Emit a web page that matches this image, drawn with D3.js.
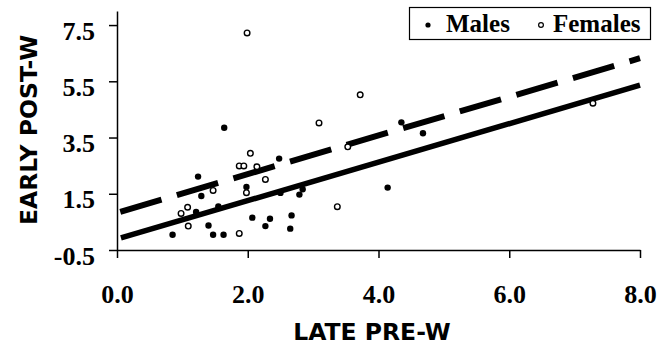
<!DOCTYPE html>
<html>
<head>
<meta charset="utf-8">
<script src="https://cdn.jsdelivr.net/npm/d3@7"></script>
<style>
  html, body { margin: 0; padding: 0; background: #fff; }
  svg { display: block; }
  .tick text { font-family: "Liberation Serif", "Times New Roman", serif; font-weight: bold; font-size: 26px; fill: #000; }
  .axis-title { font-family: "DejaVu Sans", Verdana, sans-serif; font-weight: bold; font-size: 23.5px; fill: #000; }
  .legend text { font-family: "Liberation Serif", "Times New Roman", serif; font-weight: bold; font-size: 25px; fill: #000; }
</style>
</head>
<body>
<div id="chart"></div>
<script>
// late pre-W (x) vs early post-W (y)
const malesX = [1.64, 1.24, 1.29, 1.21, 0.85, 1.40, 1.47, 1.63, 1.98, 2.07, 2.27, 2.34, 2.48, 2.67, 2.65, 2.79, 2.84, 4.14, 4.35, 4.68, 1.55, 2.50];
const malesY = [3.85, 2.11, 1.42, 0.85, 0.04, 0.37, 0.04, 0.04, 1.74, 0.65, 0.35, 0.61, 2.75, 0.73, 0.26, 1.47, 1.66, 1.72, 4.04, 3.65, 1.05, 1.53];

const femalesX = [1.99, 2.04, 1.87, 1.94, 2.14, 2.27, 1.98, 1.47, 1.08, 0.98, 1.09, 1.87, 3.09, 3.72, 3.53, 3.37, 7.28];
const femalesY = [7.22, 2.94, 2.49, 2.49, 2.46, 2.01, 1.54, 1.62, 1.02, 0.80, 0.35, 0.09, 4.02, 5.02, 3.17, 1.04, 4.72];

// regression lines, end points
const maleFitX = [0.06, 8.0];
const maleFitY = [-0.07, 5.36];
const femaleFitX = [0.05, 8.0];
const femaleFitY = [0.86, 6.32];

const xTicks = [0, 2, 4, 6, 8];
const xTickLabels = ['0.0', '2.0', '4.0', '6.0', '8.0'];
const yTicks = [-0.5, 1.5, 3.5, 5.5, 7.5];
const yTickLabels = ['-0.5', '1.5', '3.5', '5.5', '7.5'];

const width = 667, height = 349;

const svg = d3.select('#chart').append('svg')
  .attr('width', width)
  .attr('height', height);

const x = d3.scaleLinear().domain([0, 8]).range([117, 640]);
const y = d3.scaleLinear().domain([-0.5, 8]).range([250, 11]);

// axes
const xAxis = svg.append('g')
  .attr('transform', `translate(0,${y(-0.5)})`)
  .call(d3.axisBottom(x).tickValues(xTicks).tickSize(8).tickSizeOuter(0)
    .tickFormat((d, i) => xTickLabels[i]));
xAxis.selectAll('text').attr('y', 53).attr('dy', 0);

const yAxis = svg.append('g')
  .attr('transform', `translate(${x(0)},0)`)
  .call(d3.axisLeft(y).tickValues(yTicks).tickSize(8).tickSizeOuter(0)
    .tickFormat((d, i) => yTickLabels[i]));
yAxis.selectAll('text').attr('x', -22).attr('dy', 14);

svg.selectAll('.domain, .tick line').attr('stroke', '#000').attr('stroke-width', 1.5);

// fit lines
const line = d3.line().x(d => x(d[0])).y(d => y(d[1]));

svg.append('path')
  .datum(d3.zip(maleFitX, maleFitY))
  .attr('d', line)
  .attr('fill', 'none')
  .attr('stroke', '#000')
  .attr('stroke-width', 5.5);

svg.append('path')
  .datum(d3.zip(femaleFitX, femaleFitY))
  .attr('d', line)
  .attr('fill', 'none')
  .attr('stroke', '#000')
  .attr('stroke-width', 6)
  .attr('stroke-dasharray', '43,16');

// points
svg.append('g').selectAll('circle')
  .data(d3.zip(malesX, malesY))
  .join('circle')
  .attr('cx', d => x(d[0]))
  .attr('cy', d => y(d[1]))
  .attr('r', 3.2)
  .attr('fill', '#000');

svg.append('g').selectAll('circle')
  .data(d3.zip(femalesX, femalesY))
  .join('circle')
  .attr('cx', d => x(d[0]))
  .attr('cy', d => y(d[1]))
  .attr('r', 2.8)
  .attr('fill', '#fff')
  .attr('stroke', '#000')
  .attr('stroke-width', 1.4);

// axis titles
svg.append('text')
  .attr('class', 'axis-title')
  .attr('text-anchor', 'middle')
  .attr('x', 372)
  .attr('y', 340)
  .text('LATE PRE-W');

svg.append('text')
  .attr('class', 'axis-title')
  .attr('text-anchor', 'middle')
  .attr('transform', 'translate(37,130) rotate(-90)')
  .text('EARLY POST-W');

// legend
const legend = svg.append('g').attr('class', 'legend');
legend.append('rect')
  .attr('x', 409.5).attr('y', 7.5)
  .attr('width', 241).attr('height', 32)
  .attr('fill', '#fff')
  .attr('stroke', '#000')
  .attr('stroke-width', 1.2);
legend.append('circle').attr('cx', 428).attr('cy', 25).attr('r', 2.6).attr('fill', '#000');
legend.append('text').attr('x', 446).attr('y', 32).text('Males');
legend.append('circle').attr('cx', 541).attr('cy', 25).attr('r', 2.4)
  .attr('fill', '#fff').attr('stroke', '#000').attr('stroke-width', 1.2);
legend.append('text').attr('x', 553).attr('y', 32).text('Females');
</script>
</body>
</html>
